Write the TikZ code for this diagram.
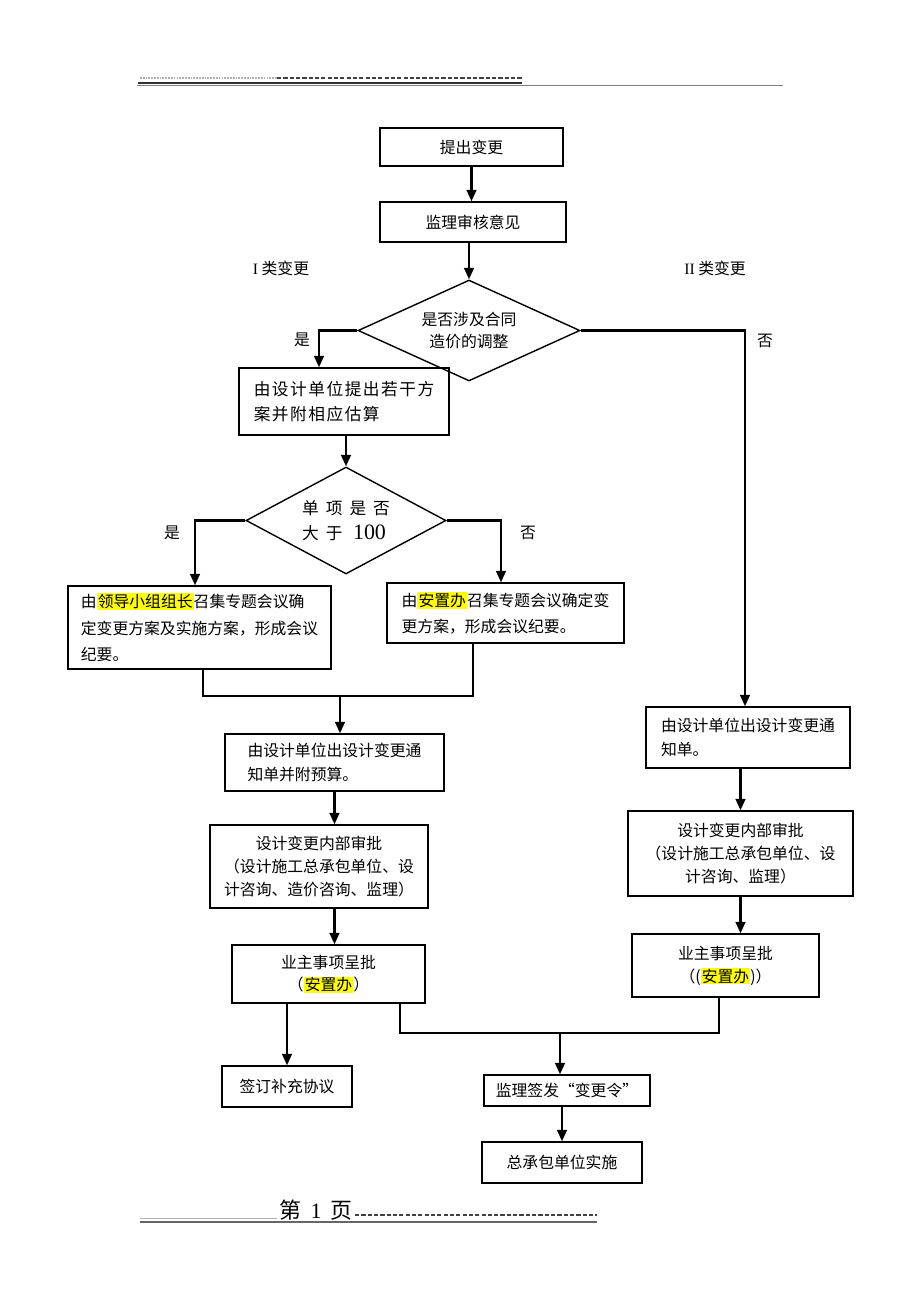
\documentclass[tikz,border=0pt]{standalone}
\usepackage{fontspec}
\usepackage{xcolor}
\setmainfont{Noto Sans CJK SC}
\newfontfamily\lat{Liberation Serif}
\newfontfamily\cjkwide[LetterSpace=9]{Noto Sans CJK SC}
\usetikzlibrary{shapes.geometric,arrows.meta}
\definecolor{hly}{RGB}{255,255,0}
\newcommand{\hilite}[1]{{\setlength{\fboxsep}{0.6pt}\colorbox{hly}{#1}}}

\begin{document}
\begin{tikzpicture}[x=0.02cm,y=-0.02cm,
		font=\fontsize{9pt}{13pt}\selectfont,
		box/.style={draw,line width=0.8pt,inner sep=2pt},
		decision/.style={draw,diamond,line width=0.8pt,inner sep=0pt},
		arr/.style={-{Triangle[length=6.5pt,width=5.5pt]},line width=1.3pt},
		link/.style={line width=0.6pt}]
		\fill[white] (0,0) rectangle (920,1302);
		\useasboundingbox (0,0) rectangle (920,1302);
		% page header
		\draw[black!30,line width=0.6pt,dash pattern=on 1pt off 0.6pt] (140,78) -- (277,78);
		\draw[black!75,line width=0.9pt,dash pattern=on 2.4pt off 1.2pt] (277,78) -- (522,78);
		\draw[black!80,line width=0.8pt] (138,83) -- (522,83);
		\draw[black!50,line width=0.6pt] (137,85.5) -- (783,85.5);
		% main column
		\node[box,minimum width=3.66cm,minimum height=0.76cm] (start) at (471.5,147) {提出变更};
		\node[box,minimum width=3.72cm,minimum height=0.8cm] (review) at (473,222) {监理审核意见};
		\node[decision,aspect=2.2,minimum width=4.44cm,minimum height=2.02cm,align=center] (d1) at (469,330.5) {是否涉及合同\\造价的调整};
		\node (typeI) at (281,268) {{\lat I} 类变更};
		\node (typeII) at (715,268) {{\lat II} 类变更};
		\node (yesA) at (302,340) {是};
		\node (noA) at (765,341) {否};
		% type I
		\node[box,minimum width=4.2cm,minimum height=1.34cm,align=left,font=\fontsize{9.5pt}{14pt}\selectfont] (b1) at (344,401.5) {\cjkwide 由设计单位提出若干方\\\cjkwide 案并附相应估算};
		\node[decision,aspect=1.87,minimum width=4.0cm,minimum height=2.14cm,align=left,font=\fontsize{9.5pt}{14pt}\selectfont] (d2) at (346,520.5) {单\hspace{4pt}项\hspace{4pt}是\hspace{4pt}否\\大\hspace{4pt}于\hspace{6pt}{\lat\fontsize{12.5pt}{14pt}\selectfont 100}};
		\node (yesB) at (172,533) {是};
		\node (noB) at (528,533) {否};
		\node[box,minimum width=5.26cm,minimum height=1.66cm,align=left,font=\fontsize{9pt}{15pt}\selectfont] (lead) at (199.5,627.5) {由\hilite{领导小组组长}召集专题会议确\\定变更方案及实施方案，形成会议\\纪要。};
		\node[box,minimum width=4.74cm,minimum height=1.2cm,align=left,font=\fontsize{9pt}{14.5pt}\selectfont] (office) at (505.5,613) {由\hilite{安置办}召集专题会议确定变\\更方案，形成会议纪要。};
		\node[box,minimum width=4.38cm,minimum height=1.14cm,align=left,font=\fontsize{9pt}{14pt}\selectfont] (notice) at (334.5,762.5) {由设计单位出设计变更通\\知单并附预算。};
		\node[box,minimum width=4.36cm,minimum height=1.66cm,align=center] (audit) at (319,866.5) {设计变更内部审批\\（设计施工总承包单位、设\\计咨询、造价咨询、监理）};
		\node[box,minimum width=3.86cm,minimum height=1.16cm,align=center] (owner) at (328.5,974) {业主事项呈批\\（\hilite{安置办}）};
		\node[box,minimum width=2.6cm,minimum height=0.82cm] (sign) at (287,1086.5) {签订补充协议};
		% type II
		\node[box,minimum width=4.08cm,minimum height=1.22cm,align=left,font=\fontsize{9pt}{14pt}\selectfont] (rnotice) at (748,737.5) {由设计单位出设计变更通\\知单。};
		\node[box,minimum width=4.5cm,minimum height=1.7cm,align=center] (raudit) at (740.5,853.5) {设计变更内部审批\\（设计施工总承包单位、设\\计咨询、监理）};
		\node[box,minimum width=3.74cm,minimum height=1.26cm,align=center] (rowner) at (725.5,965.5) {业主事项呈批\\（(\hilite{安置办})）};
		% end
		\node[box,minimum width=3.32cm,minimum height=0.62cm] (order) at (567,1090.5) {监理签发“变更令”};
		\node[box,minimum width=3.2cm,minimum height=0.82cm] (impl) at (562,1162.5) {总承包单位实施};
		% bend points
		\coordinate (yes1) at (319,330.5);
		\coordinate (no1) at (745,330.5);
		\coordinate (yes2) at (195,520.5);
		\coordinate (no2) at (501,520.5);
		\coordinate (m1) at (203,696);
		\coordinate (m2) at (473,696);
		\coordinate (m3) at (340,696);
		\coordinate (m4) at (400,1033);
		\coordinate (m5) at (719,1033);
		\coordinate (m6) at (560,1033);
		% arrows
		\draw[arr] (start) -- (start |- review.north);
		\draw[arr] (d1.north |- review.south) -- (d1.north);
		\draw[arr] (d1.west) -- (yes1) -- (yes1 |- b1.north);
		\draw[arr] (d1.east) -- (no1) -- (no1 |- rnotice.north);
		\draw[arr] (d2.north |- b1.south) -- (d2.north);
		\draw[arr] (d2.west) -- (yes2) -- (yes2 |- lead.north);
		\draw[arr] (d2.east) -- (no2) -- (no2 |- office.north);
		\draw[link] (m1 |- lead.south) -- (m1) -- (m2) -- (m2 |- office.south);
		\draw[arr] (m3) -- (m3 |- notice.north);
		\draw[arr] (notice) -- (notice |- audit.north);
		\draw[arr] (notice |- audit.south) -- (notice |- owner.north);
		\draw[arr] (sign |- owner.south) -- (sign);
		\draw[link] (m4 |- owner.south) -- (m4) -- (m5) -- (m5 |- rowner.south);
		\draw[arr] (m6) -- (m6 |- order.north);
		\draw[arr] (impl |- order.south) -- (impl);
		\draw[arr] (raudit |- rnotice.south) -- (raudit);
		\draw[arr] (raudit) -- (raudit |- rowner.north);
		% page footer
		\draw[black!30,line width=0.5pt] (140,1218) -- (277,1218);
		\node (page) at (316,1210) {\fontsize{12.5pt}{13pt}\selectfont 第\hspace{5pt}{\lat 1}\hspace{5pt}页};
		\draw[black!75,line width=0.9pt,dash pattern=on 2.4pt off 1.2pt] (355,1215) -- (597,1215);
		\draw[black!60,line width=0.9pt] (140,1222) -- (597,1222);
	\end{tikzpicture}
\end{document}
